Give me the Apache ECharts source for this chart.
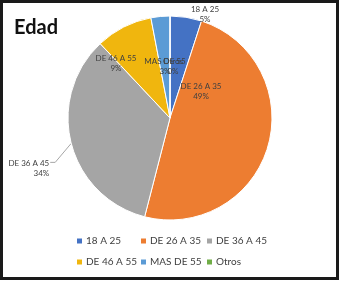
<!DOCTYPE html>
<html>
<head>
<meta charset="utf-8">
<script src="https://cdn.jsdelivr.net/npm/echarts@6/dist/echarts.min.js"></script>
<style>
  html, body { margin: 0; padding: 0; background: #fff; }
  #chart { width: 341px; height: 281px; }
</style>
</head>
<body>
<div id="chart"></div>
<script>
  // age groups and their share (%)
  const categories = ['18 A 25', 'DE 26 A 35', 'DE 36 A 45', 'DE 46 A 55', 'MAS DE 55', 'Otros'];
  const values = [5, 49, 34, 9, 3, 0];
  const colors = ['#4472C4', '#ED7D31', '#A5A5A5', '#F0B60E', '#5B9BD5', '#70AD47'];

  // legend columns, like the excel layout
  const legendCols = [
    ['18 A 25', 'DE 46 A 55'],
    ['DE 26 A 35', 'MAS DE 55'],
    ['DE 36 A 45', 'Otros']
  ];
  const legendLeft = [72, 136, 202];

  // where excel put the inside labels (label centres)
  const labelSpots = {
    '18 A 25': [205, 14],
    'DE 26 A 35': [201, 91],
    'DE 46 A 55': [116, 63],
    'MAS DE 55': [165, 66],
    'Otros': [173, 66]
  };

  const font = 'Lato, "Open Sans", sans-serif';

  const chart = echarts.init(document.getElementById('chart'));

  const data = categories.map((name, i) => {
    const item = {name: name, value: values[i], itemStyle: {color: colors[i]}};
    if (name === 'DE 36 A 45') {
      item.label = {position: 'outside', padding: [10, 0, 0, 0]};
      item.labelLine = {show: true};
    }
    return item;
  });

  const legends = legendCols.map((col, i) => ({
    orient: 'vertical',
    left: legendLeft[i],
    top: 231,
    data: col.map(n => ({
      name: n,
      icon: 'rect',
      itemStyle: {color: colors[categories.indexOf(n)], borderWidth: 0, opacity: 1}
    })),
    itemWidth: 5,
    itemHeight: 5,
    itemGap: 11,
    selectedMode: false,
    textStyle: {fontFamily: font, fontSize: 10, color: '#404040', padding: [0, 0, 0, -1]}
  }));

  const option = {
    animation: false,
    title: {
      text: 'Edad',
      left: 9,
      top: 13,
      textStyle: {fontFamily: font, fontSize: 20, fontWeight: 'bold', color: '#111'}
    },
    legend: legends,
    graphic: [{
      type: 'rect',
      shape: {x: 1.5, y: 1.5, width: 336, height: 277},
      style: {fill: 'none', stroke: '#1a1a1a', lineWidth: 3}
    }],
    series: [{
      type: 'pie',
      center: [170, 118],
      radius: 102,
      startAngle: 90,
      clockwise: true,
      avoidLabelOverlap: false,
      itemStyle: {borderColor: '#fff', borderWidth: 1},
      label: {
        position: 'inside',
        fontFamily: font,
        fontSize: 8,
        lineHeight: 10,
        color: '#404040',
        formatter: p => p.name + '\n' + Math.round(p.percent) + '%'
      },
      labelLine: {show: false, length: 20, length2: 5, lineStyle: {color: '#a6a6a6', width: 1}},
      labelLayout: function (params) {
        const name = categories[params.dataIndex];
        if (labelSpots[name]) {
          const s = labelSpots[name];
          return {x: s[0], y: s[1], align: 'center', verticalAlign: 'middle'};
        }
        const pts = params.labelLinePoints;
        if (pts) {
          const p0 = pts[0];
          const p1 = [p0[0] - 16, p0[1] + 19];
          const p2 = [p1[0] - 5, p1[1]];
          return {labelLinePoints: [p0, p1, p2], x: p2[0] - 1, y: p2[1] + 6, align: 'right', verticalAlign: 'middle'};
        }
      },
      data: data
    }]
  };

  chart.setOption(option);
</script>
</body>
</html>
